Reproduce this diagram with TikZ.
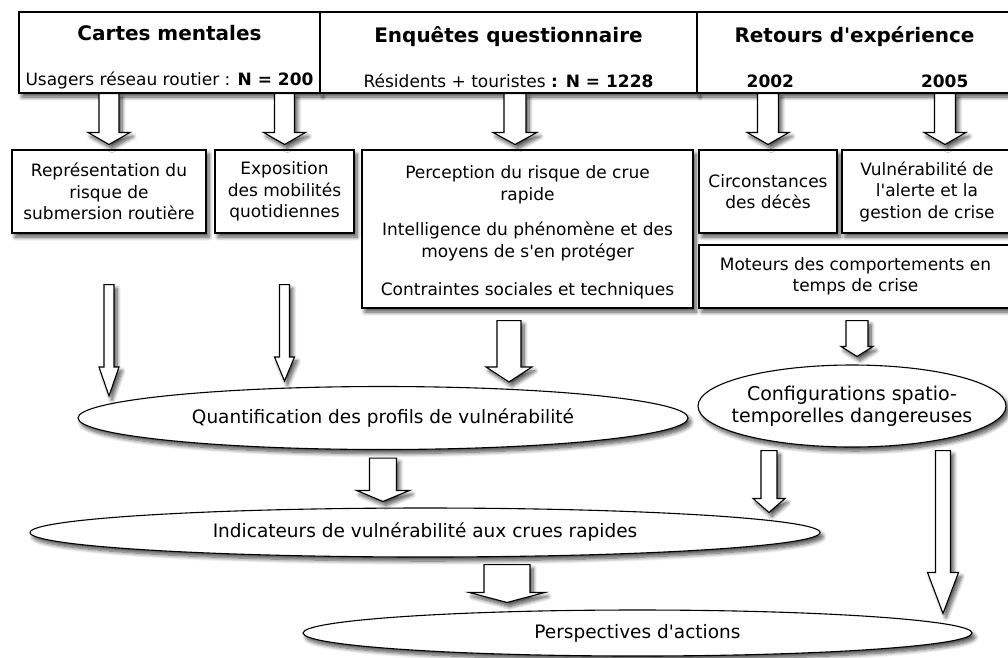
\documentclass[tikz,border=0pt]{standalone}
\usepackage{fontspec}
\setmainfont{DejaVu Sans}[Ligatures=TeXOff]
\usetikzlibrary{shapes.geometric,shadows.blur}
\usetikzlibrary{calc,positioning}

% hollow block arrow: start point, tip point, half shaft, half head, head length
\newcommand{\fleche}[5]{%
  \draw[fleche] let \p1=#1, \p2=#2 in
    (\x1-#3pt,\y1) -- (\x1+#3pt,\y1) -- (\x1+#3pt,\y2+#5pt) -- (\x1+#4pt,\y2+#5pt)
    -- (\x1,\y2) -- (\x1-#4pt,\y2+#5pt) -- (\x1-#3pt,\y2+#5pt) -- cycle;}
\newcommand{\titre}[1]{{\fontsize{20}{21.5}\selectfont\bfseries\rule{0pt}{25pt}#1}}

\tikzset{
  ombre/.style={blur shadow={shadow xshift=3pt, shadow yshift=-4pt, shadow blur radius=4pt,
    shadow blur steps=8, shadow opacity=70}},
  boite/.style={draw, fill=white, line width=1.1pt, align=center, inner sep=2pt, ombre,
    font=\fontsize{17}{21.5}\selectfont},
  bulle/.style={ellipse, draw, fill=white, line width=1.1pt, inner sep=0pt, align=center, ombre,
    font=\fontsize{18.5}{21.5}\selectfont},
  fleche/.style={draw, fill=white, line width=1.1pt, line join=miter, ombre}
}

\begin{document}
\begin{tikzpicture}[x=1pt,y=-1pt]
  \useasboundingbox (0,0) rectangle (1008,657);

  % sources
  \node[boite, minimum width=301, minimum height=81] (cartes) at (169.5,52.5)
    {\titre{Cartes mentales}\\[24pt]
     Usagers réseau routier : \textbf{N = 200}};
  \node[boite, minimum width=377, minimum height=81] (enquetes) at (508.5,52.5)
    {\titre{Enquêtes questionnaire}\\[24pt]
     Résidents + touristes \textbf{: N = 1228}};
  \node[boite, minimum width=315, minimum height=81] (retours) at (854.5,52.5)
    {\titre{Retours d'expérience}\\[24pt]
     \hspace*{6pt}\textbf{2002}\hspace{127pt}\textbf{2005}};

  % themes
  \node[boite, minimum width=194, minimum height=83] (rep) at (109,191.5)
    {Représentation du\\risque de\\submersion routière};
  \node[boite, minimum width=139, minimum height=83] (expo) at (284.5,191.5)
    {Exposition\\des mobilités\\quotidiennes};
  \node[boite, minimum width=331, minimum height=158] (percep) at (527.5,229)
    {\rule{0pt}{20pt}Perception du risque de crue\\rapide\\[14pt]
     Intelligence du phénomène et des\\moyens de s'en protéger\\[17pt]
     Contraintes sociales et techniques};
  \node[boite, minimum width=138, minimum height=83] (circ) at (768,191.5)
    {Circonstances\\des décès};
  \node[boite, minimum width=170, minimum height=83] (vuln) at (927,191.5)
    {Vulnérabilité de\\l'alerte et la\\gestion de crise};
  \node[boite, minimum width=313, minimum height=63] (moteurs) at (855.5,276.5)
    {Moteurs des comportements en\\temps de crise};

  % syntheses
  \node[bulle, minimum width=610, minimum height=63] (quant) at (383,418)
    {Quantification des profils de vulnérabilité};
  \node[bulle, minimum width=308, minimum height=82,
    label={[align=center, font=\fontsize{19}{21.5}\selectfont]center:Configurations spatio-\\temporelles dangereuses}]
    (config) at (852,406) {};
  \node[bulle, minimum width=790, minimum height=49] (indic) at (425,532.5)
    {Indicateurs de vulnérabilité aux crues rapides};
  \node[bulle, minimum width=669, minimum height=46] (persp) at (637.5,633)
    {Perspectives d'actions};

  % arrows
  \fleche{(rep.north |- cartes.south)}{($(rep.north)+(0,-5)$)}{10}{21}{12}
  \fleche{(expo.north |- cartes.south)}{($(expo.north)+(0,-5)$)}{10}{21}{12}
  \fleche{($(enquetes.south)+(6.5,0)$)}{($(percep.north)+(-12.5,-5)$)}{11}{22}{12}
  \fleche{(circ.north |- retours.south)}{($(circ.north)+(0,-5)$)}{10.5}{21}{12}
  \fleche{($(vuln.north |- retours.south)+(18,0)$)}{($(vuln.north)+(18,-5)$)}{10.5}{21}{12}

  \fleche{($(rep.south)+(0,51)$)}{($(rep.south |- quant.north)+(0,10)$)}{5}{10}{29}
  \fleche{($(expo.south)+(0,51)$)}{($(expo.south |- quant.north)+(0,-5)$)}{5}{10}{24}
  \fleche{($(percep.south)+(-18.5,12)$)}{($(percep.south |- quant.north)+(-18.5,-4)$)}{12}{23}{15}
  \fleche{($(moteurs.south)+(1.5,12)$)}{($(config.north)+(5,-8)$)}{11}{16}{10}

  \fleche{($(quant.south)+(0,8)$)}{($(quant.south |- indic.north)+(0,-6)$)}{13.5}{26.5}{11}
  \fleche{($(config.south)+(-83,3)$)}{($(indic.north -| config.south)+(-83,5)$)}{8}{16}{14}
  \fleche{($(config.south)+(91,3)$)}{($(persp.north -| config.south)+(91,4)$)}{7.5}{15.5}{41}
  \fleche{($(indic.south)+(82,7)$)}{($(persp.north -| indic.south)+(82,-7)$)}{23}{38}{10}
\end{tikzpicture}
\end{document}
